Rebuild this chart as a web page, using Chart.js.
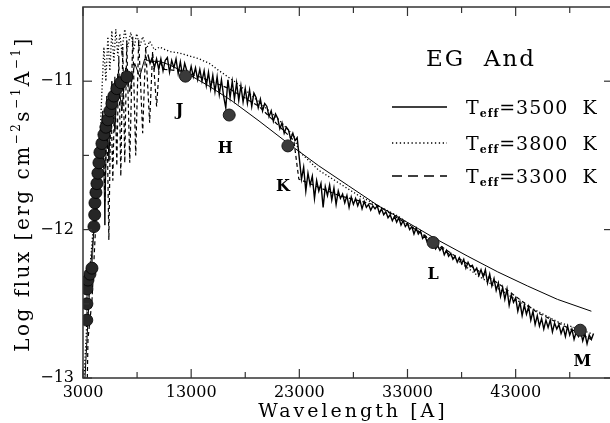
<!DOCTYPE html>
<html>
<head>
<meta charset="utf-8">
<script src="https://cdn.jsdelivr.net/npm/chart.js@4.4.0/dist/chart.umd.min.js"></script>
<style>
html, body { margin: 0; padding: 0; background: #fff; overflow: hidden; }
</style>
</head>
<body>
<canvas id="sed" width="620" height="423"></canvas>
<script>
// axis ticks and tick labels
const xTicks = [3000, 8000, 13000, 18000, 23000, 28000, 33000, 38000, 43000, 48000];
const xTickLabels = ['3000', '13000', '23000', '33000', '43000'];
const yTicks = [-13, -12.5, -12, -11.5, -11];
const yTickLabels = ['\u221213', '\u221212', '\u221211'];

// model Teff=3500 K (solid)
const wl3500 = [3184, 3368, 3552, 3736, 4011, 4195, 4379, 4563, 4839, 5023, 5207, 5391, 5667, 5943, 6218, 6586,
  6954, 7322, 7782, 8241, 8701, 9161, 10080, 11000, 12563, 14678, 16793, 19275, 22034, 24792, 27551, 30310,
  33988, 35551, 38585, 41344, 44102, 46861, 50000];
const flux3500 = [-13.0, -12.74, -12.48, -12.22, -12.01, -11.81, -11.60, -11.40, -11.20, -11.97, -11.10, -11.54, -11.00, -11.34, -10.95, -11.20,
  -10.91, -11.07, -10.88, -10.97, -10.85, -10.866, -10.866, -10.89, -10.946, -11.034, -11.134, -11.268, -11.423, -11.57, -11.705, -11.84,
  -11.993, -12.06, -12.18, -12.285, -12.38, -12.47, -12.55];

// model Teff=3800 K (dotted)
const wl3800 = [3092, 3276, 3552, 3920, 4287, 4563, 4747, 4931, 5115, 5299, 5483, 5667, 5851, 6034, 6218, 6402,
  6586, 6862, 7138, 7414, 7690, 7966, 8241, 8517, 8885, 9161, 9621, 10080, 10999, 11919, 12839, 13758,
  14678, 15597, 16977, 18356, 19735, 21114, 22494, 22954, 24792, 28471, 32149, 35827, 39506, 43184, 46861, 49988];
const flux3800 = [-13.0, -12.74, -12.34, -12.01, -11.74, -11.40, -11.07, -10.77, -11.00, -10.70, -10.93, -10.66, -10.87, -10.65, -10.83, -10.68,
  -10.80, -10.65, -10.77, -10.67, -10.79, -10.68, -10.77, -10.70, -10.78, -10.73, -10.79, -10.77, -10.80, -10.81, -10.83, -10.85,
  -10.88, -10.93, -11.00, -11.08, -11.17, -11.26, -11.37, -11.47, -11.60, -11.77, -11.91, -12.11, -12.31, -12.48, -12.62, -12.70];

// model Teff=3300 K (dashed)
const wl3300 = [3400, 3460, 3828, 4195, 4563, 4839, 5023, 5207, 5391, 5575, 5759, 5943, 6126, 6310, 6494, 6678,
  6862, 7046, 7322, 7598, 7874, 8149, 8517, 8793, 9161, 9437, 9805, 10080, 10540, 11919, 13758, 16517,
  19275, 22494, 22954, 26632, 30310, 33988, 37666, 41344, 45022, 50000];
const flux3300 = [-13.0, -12.74, -12.48, -11.94, -11.60, -11.27, -11.81, -11.20, -12.07, -11.10, -11.67, -10.97, -11.57, -10.83, -11.64, -10.77,
  -11.55, -10.73, -11.55, -10.70, -11.50, -10.72, -11.35, -10.77, -11.28, -10.80, -11.17, -10.87, -10.92, -10.93, -10.97, -11.05,
  -11.17, -11.40, -11.66, -11.77, -11.84, -12.01, -12.19, -12.36, -12.56, -12.74];

// observed infrared spectrum
const specWl = [
  9000, 9200, 9400, 9600, 9800, 10000, 10200, 10400, 10600, 10800,
  11000, 11200, 11400, 11600, 11800, 12000, 12200, 12400, 12600, 12800,
  13000, 13200, 13400, 13600, 13800, 14000, 14200, 14400, 14600, 14800,
  15000, 15200, 15400, 15600, 15800, 16000, 16200, 16400, 16600, 16800,
  17000, 17200, 17400, 17600, 17800, 18000, 18200, 18400, 18600, 18800,
  19000, 19200, 19400, 19600, 19800, 20000, 20200, 20400, 20600, 20800,
  21000, 21200, 21400, 21600, 21800, 22000, 22200, 22400, 22600, 22800,
  23000, 23200, 23400, 23600, 23800, 24000, 24200, 24400, 24600, 24800,
  25000, 25200, 25400, 25600, 25800, 26000, 26200, 26400, 26600, 26800,
  27000, 27200, 27400, 27600, 27800, 28000, 28200, 28400, 28600, 28800,
  29000, 29200, 29400, 29600, 29800, 30000, 30200, 30400, 30600, 30800,
  31000, 31200, 31400, 31600, 31800, 32000, 32200, 32400, 32600, 32800,
  33000, 33200, 33400, 33600, 33800, 34000, 34200, 34400, 34600, 34800,
  35000, 35200, 35400, 35600, 35800, 36000, 36200, 36400, 36600, 36800,
  37000, 37200, 37400, 37600, 37800, 38000, 38200, 38400, 38600, 38800,
  39000, 39200, 39400, 39600, 39800, 40000, 40200, 40400, 40600, 40800,
  41000, 41200, 41400, 41600, 41800, 42000, 42200, 42400, 42600, 42800,
  43000, 43200, 43400, 43600, 43800, 44000, 44200, 44400, 44600, 44800,
  45000, 45200, 45400, 45600, 45800, 46000, 46200, 46400, 46600, 46800,
  47000, 47200, 47400, 47600, 47800, 48000, 48200, 48400, 48600, 48800,
  49000, 49200, 49400, 49600, 49800, 50000, 50200];
const specFlux = [
  -10.82, -10.88, -10.84, -10.91, -10.85, -10.92, -10.85, -10.93, -10.86, -10.84,
  -10.94, -10.86, -10.91, -10.85, -10.95, -10.87, -10.96, -10.88, -10.93, -10.97,
  -10.90, -10.97, -10.91, -10.99, -10.92, -11.00, -10.93, -11.03, -10.94, -11.05,
  -10.96, -11.07, -10.97, -11.09, -10.99, -11.10, -11.18, -10.99, -11.11, -11.00,
  -11.12, -11.01, -11.13, -11.03, -11.14, -11.05, -11.15, -11.06, -11.17, -11.08,
  -11.11, -11.18, -11.12, -11.20, -11.15, -11.17, -11.24, -11.20, -11.27, -11.22,
  -11.25, -11.32, -11.28, -11.35, -11.31, -11.33, -11.39, -11.35, -11.40, -11.38,
  -11.52, -11.66, -11.58, -11.74, -11.62, -11.70, -11.64, -11.79, -11.67, -11.74,
  -11.69, -11.85, -11.71, -11.77, -11.70, -11.80, -11.72, -11.83, -11.74, -11.79,
  -11.76, -11.82, -11.77, -11.85, -11.78, -11.83, -11.79, -11.84, -11.80, -11.86,
  -11.81, -11.85, -11.83, -11.87, -11.84, -11.86, -11.84, -11.89, -11.86, -11.90,
  -11.88, -11.92, -11.90, -11.94, -11.91, -11.95, -11.92, -11.97, -11.94, -11.98,
  -11.96, -12.00, -11.98, -12.03, -11.99, -12.03, -12.01, -12.06, -12.04, -12.08,
  -12.06, -12.10, -12.08, -12.13, -12.11, -12.14, -12.12, -12.17, -12.14, -12.18,
  -12.16, -12.20, -12.18, -12.22, -12.19, -12.23, -12.20, -12.26, -12.22, -12.25,
  -12.24, -12.28, -12.26, -12.31, -12.27, -12.32, -12.27, -12.36, -12.30, -12.38,
  -12.33, -12.41, -12.36, -12.45, -12.39, -12.47, -12.40, -12.51, -12.44, -12.49,
  -12.46, -12.55, -12.49, -12.58, -12.51, -12.57, -12.52, -12.61, -12.55, -12.64,
  -12.58, -12.65, -12.60, -12.67, -12.61, -12.66, -12.61, -12.69, -12.63, -12.67,
  -12.64, -12.70, -12.66, -12.72, -12.65, -12.71, -12.67, -12.74, -12.69, -12.72,
  -12.68, -12.75, -12.70, -12.77, -12.71, -12.74, -12.70];

// optical spectrophotometry (filled circles)
const optWl = [3350, 3360, 3368, 3460, 3644, 3828, 4011, 4080, 4103, 4195, 4287, 4379, 4471, 4563,
  4747, 4931, 5115, 5299, 5483, 5667, 5851, 6126, 6494, 7046];
const optFlux = [-12.61, -12.50, -12.40, -12.34, -12.30, -12.26, -11.98, -11.90, -11.82, -11.75, -11.69, -11.62, -11.55, -11.48,
  -11.42, -11.36, -11.31, -11.26, -11.20, -11.15, -11.10, -11.05, -11.01, -10.97];

// infrared photometry
const bands = ['J', 'H', 'K', 'L', 'M'];
const bandWl = [12471, 16517, 21942, 35366, 48975];
const bandFlux = [-10.966, -11.228, -11.436, -12.087, -12.678];

const pts = (xs, ys) => xs.map((v, i) => ({ x: v, y: ys[i] }));
const serif = 'DejaVu Serif';

function seg(ctx, x1, y1, x2, y2) {
  ctx.beginPath(); ctx.moveTo(x1, y1); ctx.lineTo(x2, y2); ctx.stroke();
}

// draws a row of text pieces, some raised or lowered
function pieces(ctx, list, x, y) {
  list.forEach(p => {
    ctx.font = p.f;
    ctx.fillText(p.t, x, y + (p.dy || 0));
    x += ctx.measureText(p.t).width;
  });
}
function piecesWidth(ctx, list) {
  let w = 0;
  list.forEach(p => { ctx.font = p.f; w += ctx.measureText(p.t).width; });
  return w;
}

const decor = {
  id: 'decor',
  afterDraw(chart) {
    const { ctx, chartArea: a, scales: { x, y } } = chart;
    ctx.save();
    ctx.strokeStyle = '#333';
    ctx.lineWidth = 1.5;
    ctx.strokeRect(a.left, a.top, a.right - a.left, a.bottom - a.top);

    // inward ticks
    ctx.lineWidth = 1.2;
    x.ticks.forEach(t => {
      const px = x.getPixelForValue(t.value);
      const len = (t.value - 3000) % 10000 === 0 ? 9 : 6;
      seg(ctx, px, a.bottom, px, a.bottom - len);
      seg(ctx, px, a.top, px, a.top + len);
    });
    y.ticks.forEach(t => {
      const py = y.getPixelForValue(t.value);
      const major = Number.isInteger(t.value);
      seg(ctx, a.left, py, a.left + (major ? 9 : 6), py);
      if (major) seg(ctx, a.right, py, a.right - 9, py);
    });

    ctx.fillStyle = '#000';
    ctx.textBaseline = 'alphabetic';
    ctx.textAlign = 'left';

    // x title
    ctx.letterSpacing = '3px';
    ctx.font = '19px "' + serif + '"';
    const xt = 'Wavelength [A]';
    ctx.fillText(xt, 353 - ctx.measureText(xt).width / 2, 417);

    // y title
    const base = '20px "' + serif + '"', sup = '12px "' + serif + '"';
    ctx.letterSpacing = '2.5px';
    const yt = [
      { t: 'Log flux [erg cm', f: base }, { t: '\u22122', f: sup, dy: -9 },
      { t: 's', f: base }, { t: '\u22121', f: sup, dy: -9 },
      { t: 'A', f: base }, { t: '\u22121', f: sup, dy: -9 }, { t: ']', f: base }];
    ctx.save();
    ctx.translate(29, 194);
    ctx.rotate(-Math.PI / 2);
    pieces(ctx, yt, -piecesWidth(ctx, yt) / 2, 0);
    ctx.restore();

    // title
    ctx.letterSpacing = '2px';
    ctx.font = '23px "' + serif + '"';
    const tt = 'EG  And';
    ctx.fillText(tt, 481 - ctx.measureText(tt).width / 2, 66);

    // legend
    const lbase = '19px "' + serif + '"';
    ctx.letterSpacing = '1px';
    const legend = [
      { dash: [], label: '=3500  K' },
      { dash: [1.3, 2.6], label: '=3800  K' },
      { dash: [10, 6], label: '=3300  K' }];
    const rows = [107, 143, 176];
    legend.forEach((l, i) => {
      ctx.strokeStyle = '#000';
      ctx.lineWidth = 1.3;
      ctx.setLineDash(l.dash);
      seg(ctx, 392, rows[i], 447, rows[i]);
      ctx.setLineDash([]);
      pieces(ctx, [
        { t: 'T', f: lbase },
        { t: 'eff', f: 'bold 11px "' + serif + '"', dy: 3 },
        { t: l.label, f: lbase }], 466, rows[i] + 7);
    });

    // band labels below the photometric points
    ctx.letterSpacing = '0px';
    ctx.font = 'bold 16px "' + serif + '"';
    ctx.textAlign = 'center';
    ctx.textBaseline = 'middle';
    const offs = [[-6, 35], [-4, 34], [-5, 41], [0, 32], [2, 32]];
    bands.forEach((b, i) => {
      const px = x.getPixelForValue(bandWl[i]);
      const py = y.getPixelForValue(bandFlux[i]);
      ctx.fillText(b, px + offs[i][0], py + offs[i][1]);
    });
    ctx.restore();
  }
};

new Chart(document.getElementById('sed').getContext('2d'), {
  type: 'scatter',
  data: {
    datasets: [
      {
        label: 'photometry',
        data: pts(bandWl, bandFlux),
        showLine: false,
        pointRadius: 6,
        pointBackgroundColor: '#3a3a3a',
        pointBorderColor: '#1a1a1a',
        pointBorderWidth: 1
      },
      {
        label: 'optical',
        data: pts(optWl, optFlux),
        showLine: true,
        borderColor: '#111',
        borderWidth: 0.8,
        pointRadius: 6,
        pointBackgroundColor: '#262626',
        pointBorderColor: '#000',
        pointBorderWidth: 0.8
      },
      {
        label: 'Teff=3500 K',
        data: pts(wl3500, flux3500),
        showLine: true,
        borderColor: '#000',
        borderWidth: 1,
        pointRadius: 0
      },
      {
        label: 'spectrum',
        data: pts(specWl, specFlux),
        showLine: true,
        borderColor: '#000',
        borderWidth: 1.4,
        pointRadius: 0
      },
      {
        label: 'Teff=3800 K',
        data: pts(wl3800, flux3800),
        showLine: true,
        borderColor: '#000',
        borderWidth: 1.3,
        borderDash: [1.2, 2.2],
        pointRadius: 0
      },
      {
        label: 'Teff=3300 K',
        data: pts(wl3300, flux3300),
        showLine: true,
        borderColor: '#000',
        borderWidth: 1.2,
        borderDash: [4, 3],
        pointRadius: 0
      }
    ]
  },
  options: {
    responsive: false,
    animation: false,
    layout: { padding: { top: 5, right: 4, left: 0, bottom: 0 } },
    plugins: { legend: { display: false }, tooltip: { enabled: false } },
    scales: {
      x: {
        type: 'linear',
        min: 3000,
        max: 52000,
        afterBuildTicks: s => { s.ticks = xTicks.map(v => ({ value: v })); },
        afterFit: s => { s.height = 45; s.paddingLeft = 0; s.paddingRight = 0; },
        grid: { display: false, drawTicks: false },
        border: { display: false },
        ticks: {
          padding: 5,
          color: '#000',
          font: { family: serif, size: 16 },
          maxRotation: 0,
          autoSkip: false,
          callback: v => xTickLabels.includes(String(v)) ? String(v) : ''
        }
      },
      y: {
        min: -13,
        max: -10.5,
        afterBuildTicks: s => { s.ticks = yTicks.map(v => ({ value: v })); },
        afterFit: s => { s.width = 83; s.paddingTop = 0; s.paddingBottom = 0; },
        grid: { display: false, drawTicks: false },
        border: { display: false },
        ticks: {
          padding: 9,
          color: '#000',
          font: { family: serif, size: 16 },
          callback: v => {
            const lab = '\u2212' + Math.abs(v);
            return yTickLabels.includes(lab) ? lab : '';
          }
        }
      }
    }
  },
  plugins: [decor]
});
</script>
</body>
</html>
